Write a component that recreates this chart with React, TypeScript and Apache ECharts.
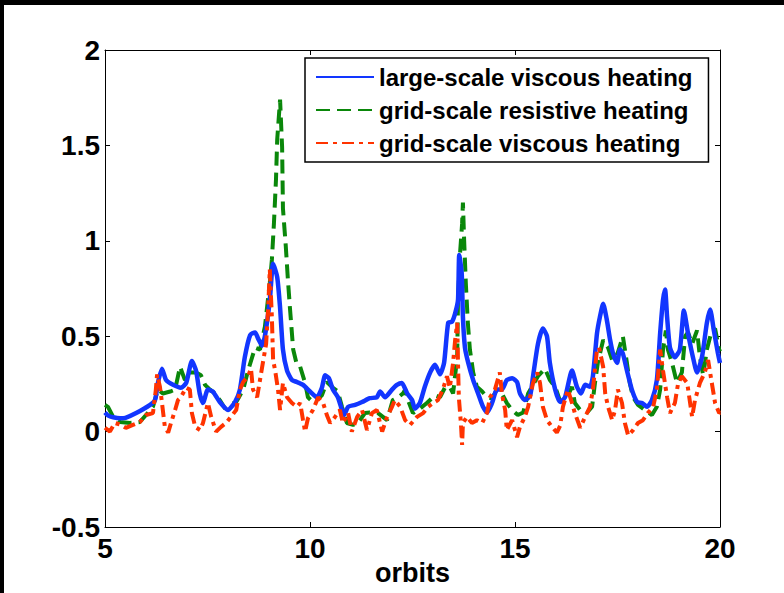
import React, { useEffect, useRef } from "react";
import * as echarts from "echarts";

const xTicks = [5, 10, 15, 20];
const yTicks = [-0.5, 0, 0.5, 1, 1.5, 2];
const seriesNames = [
  "large-scale viscous heating",
  "grid-scale resistive heating",
  "grid-scale viscous heating",
];

const largeScaleViscous: [number, number][] = [
  [5.0, 0.1], [5.07, 0.085], [5.2, 0.075], [5.37, 0.07], [5.5, 0.072], [5.76, 0.097],
  [6.1, 0.14], [6.22, 0.165], [6.29, 0.255], [6.39, 0.33], [6.49, 0.27], [6.66, 0.245],
  [6.85, 0.23], [6.98, 0.255], [7.12, 0.37], [7.22, 0.32], [7.31, 0.2], [7.39, 0.15],
  [7.51, 0.22], [7.63, 0.21], [7.8, 0.155], [8.0, 0.113], [8.17, 0.155], [8.29, 0.22],
  [8.41, 0.39], [8.54, 0.506], [8.66, 0.52], [8.73, 0.49], [8.83, 0.45], [8.9, 0.5],
  [9.02, 0.69], [9.1, 0.88], [9.2, 0.81], [9.27, 0.65], [9.34, 0.43], [9.44, 0.32],
  [9.56, 0.27], [9.68, 0.26], [9.83, 0.245], [10.0, 0.21], [10.17, 0.18], [10.29, 0.23],
  [10.37, 0.295], [10.46, 0.28], [10.56, 0.22], [10.68, 0.18], [10.78, 0.113], [10.83, 0.087],
  [10.93, 0.13], [11.1, 0.14], [11.27, 0.155], [11.46, 0.175], [11.63, 0.18], [11.71, 0.21],
  [11.83, 0.18], [12.0, 0.22], [12.12, 0.245], [12.24, 0.255], [12.37, 0.2], [12.49, 0.165],
  [12.56, 0.12], [12.68, 0.15], [12.8, 0.235], [12.93, 0.31], [13.05, 0.35], [13.17, 0.3],
  [13.27, 0.36], [13.37, 0.57], [13.46, 0.575], [13.54, 0.62], [13.61, 0.69], [13.64, 0.925],
  [13.7, 0.83], [13.73, 0.6], [13.78, 0.44], [13.86, 0.36], [13.98, 0.27], [14.1, 0.2],
  [14.22, 0.13], [14.32, 0.1], [14.44, 0.15], [14.56, 0.22], [14.68, 0.22], [14.8, 0.27],
  [14.93, 0.28], [15.05, 0.26], [15.12, 0.2], [15.24, 0.165], [15.37, 0.19], [15.44, 0.29],
  [15.56, 0.46], [15.68, 0.54], [15.78, 0.5], [15.85, 0.36], [15.98, 0.22], [16.1, 0.155],
  [16.22, 0.18], [16.39, 0.32], [16.51, 0.235], [16.61, 0.2], [16.71, 0.245], [16.83, 0.235],
  [16.9, 0.29], [17.0, 0.515], [17.07, 0.6], [17.15, 0.67], [17.24, 0.585], [17.32, 0.48],
  [17.39, 0.41], [17.49, 0.36], [17.56, 0.43], [17.63, 0.41], [17.73, 0.32], [17.85, 0.22],
  [17.98, 0.155], [18.1, 0.15], [18.22, 0.13], [18.34, 0.165], [18.46, 0.27], [18.54, 0.515],
  [18.61, 0.69], [18.66, 0.745], [18.71, 0.6], [18.78, 0.44], [18.9, 0.39], [19.02, 0.43],
  [19.12, 0.635], [19.22, 0.515], [19.34, 0.39], [19.44, 0.31], [19.56, 0.39], [19.68, 0.57],
  [19.76, 0.64], [19.85, 0.53], [19.95, 0.41], [20.0, 0.36],
];

const gridScaleResistive: [number, number][] = [
  [5.0, 0.14], [5.07, 0.13], [5.2, 0.077], [5.37, 0.05], [5.61, 0.045], [5.85, 0.05],
  [6.0, 0.087], [6.17, 0.13], [6.29, 0.22], [6.41, 0.2], [6.59, 0.21], [6.71, 0.22],
  [6.83, 0.34], [6.95, 0.27], [7.07, 0.31], [7.22, 0.31], [7.34, 0.295], [7.44, 0.245],
  [7.56, 0.22], [7.68, 0.2], [7.8, 0.165], [7.93, 0.12], [8.05, 0.14], [8.2, 0.155],
  [8.37, 0.22], [8.49, 0.32], [8.66, 0.44], [8.78, 0.43], [8.9, 0.55], [9.02, 0.78],
  [9.07, 0.9], [9.12, 1.09], [9.17, 1.32], [9.2, 1.53], [9.27, 1.74], [9.32, 1.49],
  [9.34, 1.17], [9.41, 0.97], [9.46, 0.8], [9.51, 0.65], [9.59, 0.43], [9.68, 0.35],
  [9.76, 0.34], [9.88, 0.255], [9.95, 0.18], [10.07, 0.155], [10.29, 0.19], [10.41, 0.26],
  [10.56, 0.23], [10.68, 0.21], [10.78, 0.13], [10.9, 0.045], [11.05, 0.035], [11.17, 0.045],
  [11.34, 0.097], [11.46, 0.1], [11.66, 0.097], [11.88, 0.06], [12.02, 0.165], [12.15, 0.18],
  [12.27, 0.2], [12.32, 0.22], [12.39, 0.165], [12.51, 0.097], [12.68, 0.12], [12.85, 0.15],
  [13.05, 0.19], [13.17, 0.18], [13.29, 0.23], [13.41, 0.235], [13.49, 0.2], [13.59, 0.39],
  [13.61, 0.69], [13.66, 0.935], [13.71, 1.09], [13.73, 1.2], [13.76, 1.0], [13.8, 0.78],
  [13.85, 0.57], [13.9, 0.43], [13.98, 0.31], [14.07, 0.235], [14.2, 0.21], [14.32, 0.18],
  [14.44, 0.175], [14.56, 0.22], [14.68, 0.2], [14.8, 0.15], [14.93, 0.113], [15.07, 0.087],
  [15.2, 0.1], [15.32, 0.2], [15.44, 0.245], [15.56, 0.29], [15.73, 0.33], [15.85, 0.27],
  [15.98, 0.235], [16.1, 0.16], [16.27, 0.18], [16.39, 0.235], [16.46, 0.15], [16.59, 0.113],
  [16.76, 0.1], [16.88, 0.13], [16.95, 0.255], [17.02, 0.36], [17.15, 0.48], [17.27, 0.44],
  [17.37, 0.375], [17.44, 0.385], [17.51, 0.415], [17.63, 0.5], [17.73, 0.36], [17.8, 0.255],
  [17.88, 0.18], [18.0, 0.14], [18.17, 0.113], [18.34, 0.087], [18.46, 0.13], [18.54, 0.22],
  [18.61, 0.43], [18.68, 0.53], [18.73, 0.43], [18.83, 0.36], [18.95, 0.255], [19.07, 0.31],
  [19.15, 0.5], [19.22, 0.52], [19.32, 0.46], [19.44, 0.53], [19.51, 0.39], [19.59, 0.295],
  [19.68, 0.43], [19.8, 0.53], [19.88, 0.54], [19.98, 0.43], [20.0, 0.42],
];

const gridScaleViscous: [number, number][] = [
  [5.0, 0.02], [5.12, 0.0], [5.24, 0.045], [5.39, 0.035], [5.51, 0.02], [5.68, 0.035],
  [5.85, 0.05], [6.0, 0.087], [6.17, 0.097], [6.24, 0.22], [6.27, 0.3], [6.34, 0.235],
  [6.39, 0.15], [6.46, 0.025], [6.54, -0.005], [6.61, 0.045], [6.71, 0.113], [6.78, 0.165],
  [6.85, 0.18], [6.98, 0.23], [7.07, 0.22], [7.12, 0.097], [7.2, 0.025], [7.32, 0.008],
  [7.39, 0.045], [7.51, 0.15], [7.59, 0.077], [7.71, 0.0], [7.83, 0.025], [7.95, 0.045],
  [8.07, 0.077], [8.2, 0.113], [8.29, 0.22], [8.37, 0.26], [8.49, 0.29], [8.56, 0.33],
  [8.61, 0.22], [8.71, 0.18], [8.78, 0.27], [8.85, 0.36], [8.93, 0.46], [8.98, 0.65],
  [9.02, 0.85], [9.07, 0.6], [9.1, 0.375], [9.15, 0.32], [9.22, 0.22], [9.27, 0.113],
  [9.34, 0.255], [9.44, 0.18], [9.56, 0.15], [9.68, 0.13], [9.76, 0.15], [9.83, 0.06],
  [9.88, 0.0], [9.95, 0.07], [10.07, 0.113], [10.2, 0.18], [10.32, 0.15], [10.41, 0.087],
  [10.49, 0.045], [10.61, 0.077], [10.73, 0.113], [10.8, 0.045], [10.93, 0.097], [11.02, 0.0],
  [11.15, 0.077], [11.27, 0.113], [11.39, 0.008], [11.51, 0.097], [11.63, 0.113], [11.76, 0.0],
  [11.88, 0.077], [12.0, 0.13], [12.07, 0.165], [12.2, 0.13], [12.32, 0.06], [12.44, 0.035],
  [12.61, 0.077], [12.76, 0.097], [12.88, 0.13], [13.0, 0.15], [13.12, 0.165], [13.24, 0.22],
  [13.34, 0.29], [13.41, 0.23], [13.49, 0.36], [13.54, 0.48], [13.59, 0.57], [13.61, 0.36],
  [13.63, 0.18], [13.68, 0.045], [13.71, -0.07], [13.73, 0.045], [13.83, 0.077], [13.95, 0.045],
  [14.07, 0.06], [14.2, 0.045], [14.32, 0.1], [14.39, 0.18], [14.51, 0.22], [14.63, 0.31],
  [14.68, 0.2], [14.76, 0.113], [14.8, 0.008], [14.93, 0.06], [15.05, -0.03], [15.12, 0.025],
  [15.24, 0.077], [15.32, 0.13], [15.44, 0.255], [15.54, 0.31], [15.61, 0.255], [15.68, 0.13],
  [15.78, 0.06], [15.9, 0.025], [16.02, -0.005], [16.1, 0.03], [16.17, 0.13], [16.29, 0.22],
  [16.39, 0.15], [16.46, 0.097], [16.59, 0.02], [16.71, 0.077], [16.83, 0.13], [16.9, 0.22],
  [17.0, 0.43], [17.05, 0.44], [17.15, 0.34], [17.2, 0.2], [17.27, 0.13], [17.37, 0.06],
  [17.44, 0.113], [17.51, 0.22], [17.61, 0.15], [17.68, 0.045], [17.76, -0.02], [17.88, 0.008],
  [18.0, 0.045], [18.12, 0.06], [18.24, 0.097], [18.37, 0.13], [18.46, 0.22], [18.54, 0.43],
  [18.61, 0.32], [18.71, 0.18], [18.78, 0.097], [18.9, 0.15], [18.98, 0.255], [19.07, 0.29],
  [19.2, 0.255], [19.32, 0.077], [19.39, 0.165], [19.51, 0.255], [19.63, 0.31], [19.71, 0.375],
  [19.8, 0.255], [19.88, 0.15], [19.98, 0.097], [20.0, 0.1],
];

const FONT = "'Liberation Sans', Arial, sans-serif";

export default function App() {
  const ref = useRef<HTMLDivElement>(null);
  useEffect(() => {
    document.body.style.margin = "0";
    if (!ref.current) return;
    const chart = echarts.init(ref.current, undefined, { renderer: "svg" });
    const axisLine = { show: true, onZero: false, lineStyle: { color: "#000", width: 1 } };
    const axisTick = { show: true, inside: true, length: 5, lineStyle: { color: "#000" } };
    const labelStyle = { color: "#000", fontSize: 28, fontWeight: "bold" as const, fontFamily: FONT };
    chart.setOption({
      animation: false,
      backgroundColor: "#fff",
      graphic: [
        { type: "rect", shape: { x: 0, y: 0, width: 784, height: 5 }, style: { fill: "#000" }, z: 100 },
        { type: "rect", shape: { x: 0, y: 0, width: 4, height: 593 }, style: { fill: "#000" }, z: 100 },
      ],
      grid: { left: 105, right: 64, top: 50, bottom: 66, containLabel: false, outerBoundsMode: "none" },
      legend: {
        orient: "vertical",
        left: 305,
        top: 58,
        itemWidth: 58,
        itemHeight: 14,
        itemGap: 7,
        padding: [6, 16, 6, 10],
        borderColor: "#000",
        borderWidth: 1.5,
        backgroundColor: "#fff",
        itemStyle: { opacity: 0, borderWidth: 0 },
        textStyle: { color: "#000", fontSize: 24, fontWeight: "bold", fontFamily: FONT, lineHeight: 26 },
        data: seriesNames,
      },
      xAxis: [
        {
          type: "value", min: 5, max: 20, interval: 5, position: "bottom",
          axisLine, axisTick,
          axisLabel: { ...labelStyle, margin: 7, formatter: (v: number) => (xTicks.includes(v) ? String(v) : "") },
          splitLine: { show: false },
          name: "orbits", nameLocation: "middle", nameGap: 32, nameMoveOverlap: false,
          nameTextStyle: { ...labelStyle, fontSize: 27, lineHeight: 27 },
        },
        {
          type: "value", min: 5, max: 20, interval: 5, position: "top",
          axisLine, axisTick, axisLabel: { show: false }, splitLine: { show: false },
        },
      ],
      yAxis: [
        {
          type: "value", min: -0.5, max: 2, interval: 0.5, position: "left",
          axisLine, axisTick,
          axisLabel: { ...labelStyle, margin: 5, formatter: (v: number) => (yTicks.some((t) => Math.abs(t - v) < 1e-9) ? String(v) : "") },
          splitLine: { show: false },
        },
        {
          type: "value", min: -0.5, max: 2, interval: 0.5, position: "right",
          axisLine, axisTick, axisLabel: { show: false }, splitLine: { show: false },
        },
      ],
      series: [
        {
          name: seriesNames[0], type: "line", data: largeScaleViscous, symbol: "none", z: 3, smooth: 0.2,
          lineStyle: { color: "#1236ff", width: 4.5, type: "solid" }, itemStyle: { color: "#1236ff" },
        },
        {
          name: seriesNames[1], type: "line", data: gridScaleResistive, symbol: "none", z: 2,
          lineStyle: { color: "#0a870a", width: 4, type: [14, 7] }, itemStyle: { color: "#0a870a" },
        },
        {
          name: seriesNames[2], type: "line", data: gridScaleViscous, symbol: "none", z: 4,
          lineStyle: { color: "#ff3300", width: 4, type: [12, 5, 4, 5] }, itemStyle: { color: "#ff3300" },
        },
      ],
    });
    return () => chart.dispose();
  }, []);
  return <div ref={ref} style={{ position: "absolute", left: 0, top: 0, width: 784, height: 593 }} />;
}
